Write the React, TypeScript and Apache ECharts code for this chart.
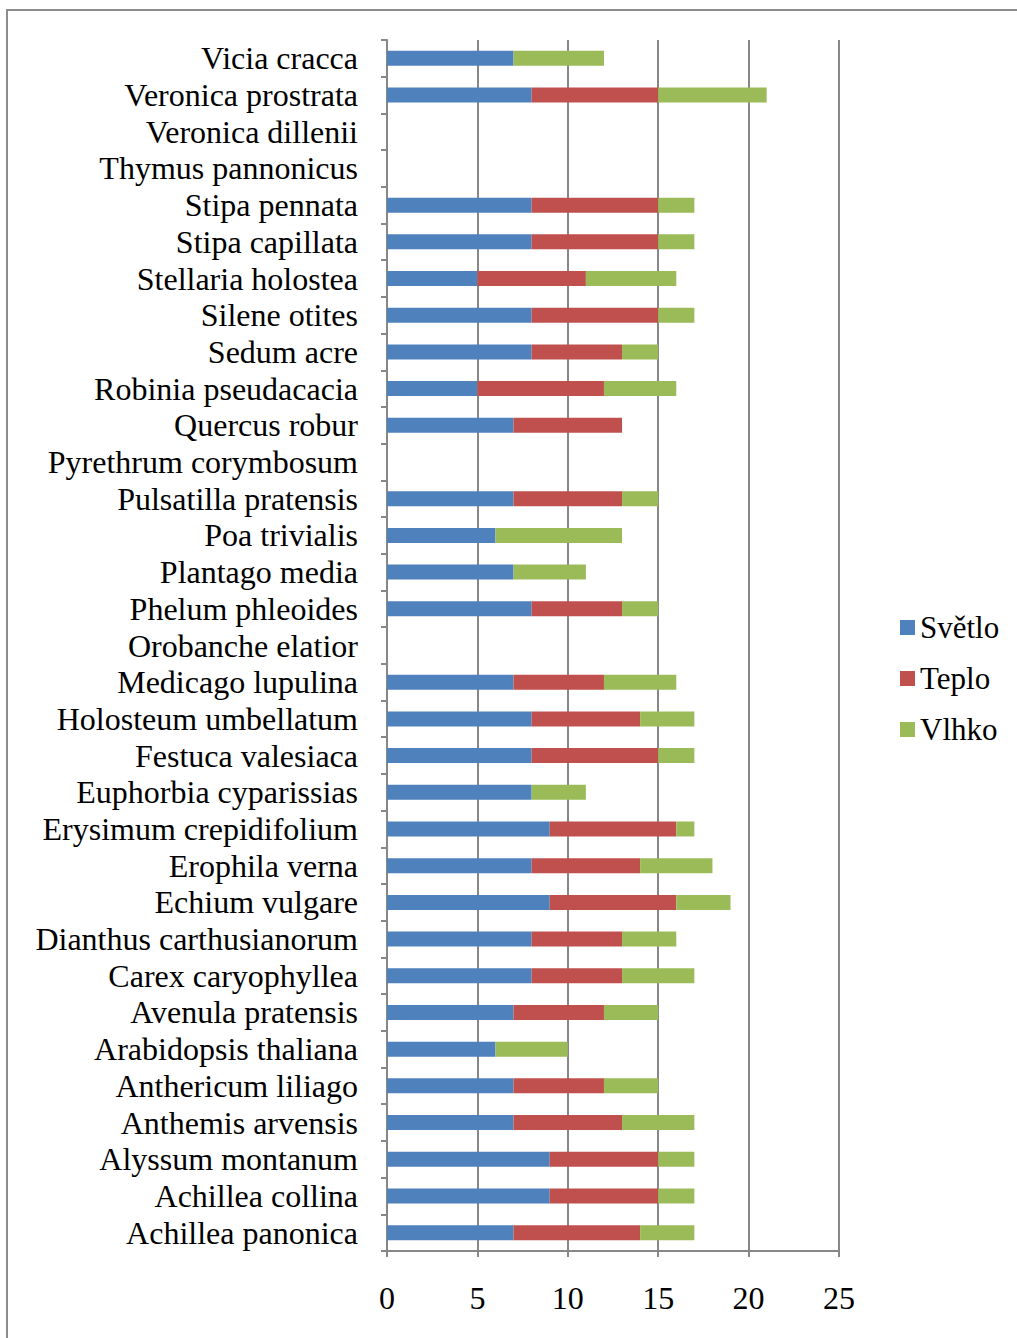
import React, { useEffect, useRef } from "react";
import * as echarts from "echarts";

// Species, listed top to bottom as they appear on the chart
const species = [
  "Vicia cracca",
  "Veronica prostrata",
  "Veronica dillenii",
  "Thymus pannonicus",
  "Stipa pennata",
  "Stipa capillata",
  "Stellaria holostea",
  "Silene otites",
  "Sedum acre",
  "Robinia pseudacacia",
  "Quercus robur",
  "Pyrethrum corymbosum",
  "Pulsatilla pratensis",
  "Poa trivialis",
  "Plantago media",
  "Phelum phleoides",
  "Orobanche elatior",
  "Medicago lupulina",
  "Holosteum umbellatum",
  "Festuca valesiaca",
  "Euphorbia cyparissias",
  "Erysimum crepidifolium",
  "Erophila verna",
  "Echium vulgare",
  "Dianthus carthusianorum",
  "Carex caryophyllea",
  "Avenula pratensis",
  "Arabidopsis thaliana",
  "Anthericum liliago",
  "Anthemis arvensis",
  "Alyssum montanum",
  "Achillea collina",
  "Achillea panonica",
];

const svetlo = [7, 8, 0, 0, 8, 8, 5, 8, 8, 5, 7, 0, 7, 6, 7, 8, 0, 7, 8, 8, 8, 9, 8, 9, 8, 8, 7, 6, 7, 7, 9, 9, 7];
const teplo = [0, 7, 0, 0, 7, 7, 6, 7, 5, 7, 6, 0, 6, 0, 0, 5, 0, 5, 6, 7, 0, 7, 6, 7, 5, 5, 5, 0, 5, 6, 6, 6, 7];
const vlhko = [5, 6, 0, 0, 2, 2, 5, 2, 2, 4, 0, 0, 2, 7, 4, 2, 0, 4, 3, 2, 3, 1, 4, 3, 3, 4, 3, 4, 3, 4, 2, 2, 3];

const seriesNames = ["Světlo", "Teplo", "Vlhko"];
const seriesColors = ["#4F81BD", "#C0504D", "#9BBB59"];

const FONT = "'Liberation Serif', 'Times New Roman', serif";
const GRAY = "#878787";

export default function App() {
  const ref = useRef<HTMLDivElement>(null);

  useEffect(() => {
    if (!ref.current) return;
    const chart = echarts.init(ref.current, undefined, { renderer: "svg" });
    const values = [svetlo, teplo, vlhko];

    chart.setOption({
      animation: false,
      backgroundColor: "#ffffff",
      textStyle: { fontFamily: FONT, color: "#000" },
      graphic: [
        {
          type: "rect",
          shape: { x: 7, y: 10, width: 1100, height: 1400 },
          style: { fill: "none", stroke: "#8c8c8c", lineWidth: 2 },
          silent: true,
        },
      ],
      legend: {
        orient: "vertical",
        left: 895,
        top: 607,
        icon: "rect",
        itemWidth: 15,
        itemHeight: 15,
        itemGap: 20,
        textStyle: { fontFamily: FONT, fontSize: 31, color: "#000" },
        data: seriesNames,
      },
      grid: { left: 387, right: 178, top: 40, bottom: 87, containLabel: false },
      xAxis: {
        type: "value",
        min: 0,
        max: 25,
        interval: 5,
        axisLine: { show: true, lineStyle: { color: GRAY, width: 2 } },
        axisTick: { show: true, length: 6, lineStyle: { color: GRAY, width: 2 } },
        splitLine: { show: true, lineStyle: { color: GRAY, width: 2 } },
        axisLabel: { fontFamily: FONT, fontSize: 32, color: "#000", margin: 31 },
      },
      yAxis: {
        type: "category",
        inverse: true,
        data: species,
        axisLine: { show: true, lineStyle: { color: GRAY, width: 2 } },
        axisTick: { show: true, length: 6, lineStyle: { color: GRAY, width: 2 } },
        axisLabel: {
          interval: 0,
          fontFamily: FONT,
          fontSize: 32,
          color: "#000",
          margin: 29,
        },
      },
      series: seriesNames.map((name, i) => ({
        name,
        type: "bar",
        stack: "total",
        barWidth: 15,
        itemStyle: { color: seriesColors[i] },
        data: values[i],
      })),
    });

    return () => chart.dispose();
  }, []);

  return (
    <div
      ref={ref}
      style={{ position: "absolute", left: 0, top: 0, width: 1017, height: 1338 }}
    />
  );
}
